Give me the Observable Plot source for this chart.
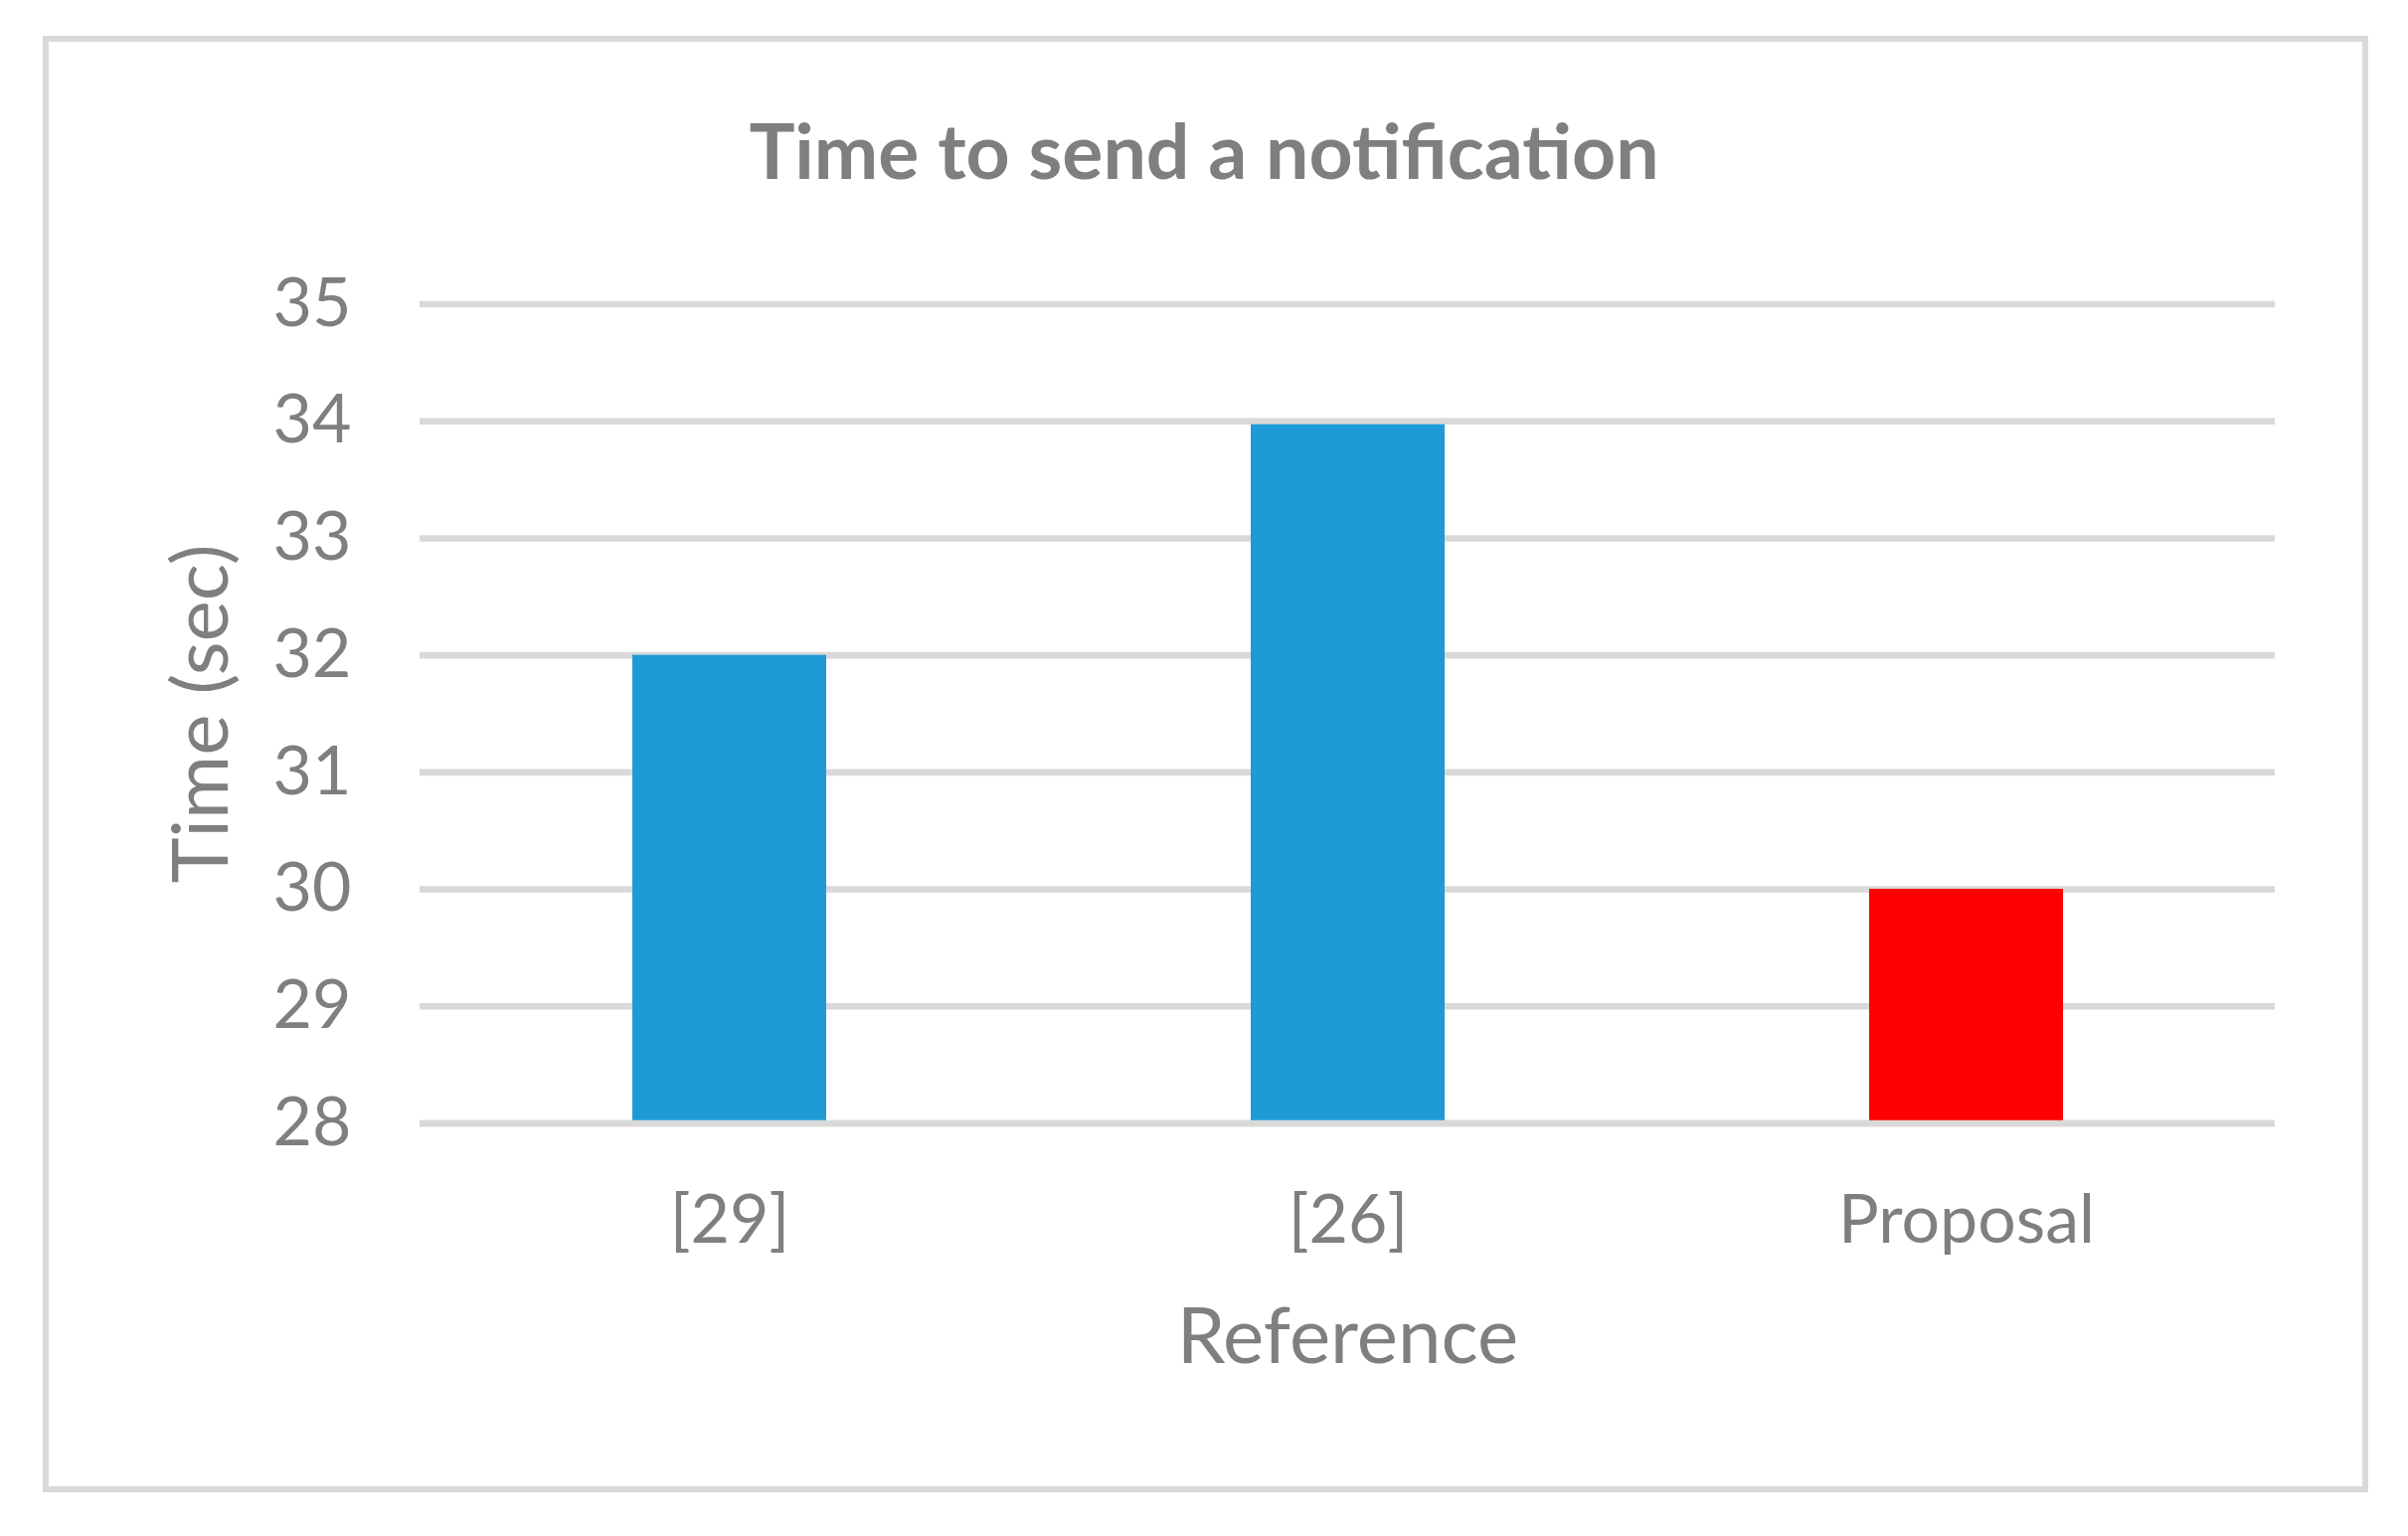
<!DOCTYPE html>
<html>
<head>
<meta charset="utf-8">
<script src="https://cdn.jsdelivr.net/npm/d3@7"></script>
<script src="https://cdn.jsdelivr.net/npm/@observablehq/plot@0.6"></script>
<style>
  html, body { margin: 0; padding: 0; background: #ffffff; }
  #wrap { position: relative; width: 2422px; height: 1545px; overflow: hidden; background: #ffffff; font-family: Lato, "Open Sans", sans-serif; }
  #frame { position: absolute; left: 43px; top: 36px; width: 2339px; height: 1465px; box-sizing: border-box; border: 6px solid #d9d9d9; }
  #title { position: absolute; left: 0; width: 2422px; top: 112px; text-align: center; font-family: Lato, sans-serif; font-weight: 700; font-size: 77px; line-height: 1; color: #7f7f7f; margin: 0; }
  #chart { position: absolute; left: 0; top: 230px; }
</style>
</head>
<body>
<div id="wrap">
  <div id="frame"></div>
  <h1 id="title">Time to send a notification</h1>
  <div id="chart"></div>
</div>
<script>
// ---- data ----
const categories = ["[29]", "[26]", "Proposal"];
const times = [32, 33.97, 30];
const barColors = ["#1E9BD7", "#1E9BD7", "#FF0000"];
const yTicks = [28, 29, 30, 31, 32, 33, 34, 35];
const xLabel = "Reference";
const yLabel = "Time (sec)";

const rows = categories.map((c, i) => ({category: c, time: times[i], color: barColors[i]}));

const gray = "#7f7f7f";
const chart = Plot.plot({
  width: 2422,
  height: 1315,
  marginLeft: 422,
  marginRight: 134,
  marginTop: 75.5,
  marginBottom: 415.5,
  style: {background: "transparent", fontFamily: "Lato, 'Open Sans', sans-serif", color: gray},
  x: {domain: categories, paddingInner: 0.687, paddingOuter: 0.3435},
  y: {domain: [yTicks[0], yTicks[yTicks.length - 1]]},
  color: {type: "identity"},
  marks: [
    Plot.gridY(yTicks, {stroke: "#d9d9d9", strokeOpacity: 1, strokeWidth: 6.6}),
    Plot.barY(rows, {x: "category", y1: yTicks[0], y2: "time", fill: "color"}),
    Plot.ruleY([yTicks[0]], {stroke: "#d9d9d9", strokeWidth: 6.6}),
    Plot.axisY({ticks: yTicks, tickSize: 0, tickPadding: 69, fontSize: 68, fill: gray, label: null, tickFormat: d => String(d)}),
    Plot.axisY({ticks: [], tickSize: 0, label: yLabel, labelAnchor: "center", labelArrow: "none", labelOffset: 249, fontSize: 78, fill: gray}),
    Plot.axisX({tickSize: 0, tickPadding: 72, fontSize: 68, fill: gray, label: null}),
    Plot.axisX({ticks: [], tickSize: 0, label: xLabel, labelAnchor: "center", labelArrow: "none", labelOffset: 241, fontSize: 78, fill: gray})
  ]
});
document.getElementById("chart").appendChild(chart);
</script>
</body>
</html>
